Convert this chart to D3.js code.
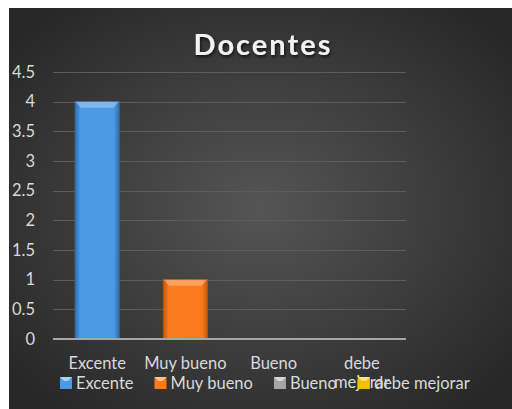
<!DOCTYPE html>
<html>
<head>
<meta charset="utf-8">
<script src="https://cdn.jsdelivr.net/npm/d3@7"></script>
<style>
  html, body { margin: 0; padding: 0; background: #fff; }
  svg { display: block; }
  text { font-family: Lato, "Open Sans", sans-serif; }
</style>
</head>
<body>
<div id="chart"></div>
<script>
(function () {
  'use strict';

  const WIDTH = 512;
  const HEIGHT = 409;
  const FONT_SIZE = '16.5px';

  // data
  const categories = ['Excente', 'Muy bueno', 'Bueno', 'debe mejorar'];
  const values = [4, 1, 0, 0];
  const yTicks = [0, 0.5, 1, 1.5, 2, 2.5, 3, 3.5, 4, 4.5];
  const colors = ['#4a9ae6', '#fb7a1c', '#a5a5a5', '#f5c000'];
  const edgeColors = ['#2e6fb0', '#c3560a', '#7a7a7a', '#b88f00'];
  const title = 'Docentes';

  const margin = { top: 72, right: 106, bottom: 70, left: 53 };
  const width = WIDTH - margin.left - margin.right;
  const height = 339 - margin.top;

  const svg = d3.select('#chart').append('svg')
    .attr('width', WIDTH)
    .attr('height', HEIGHT);

  const defs = svg.append('defs');

  const bg = defs.append('radialGradient')
    .attr('id', 'bg')
    .attr('cx', '50%').attr('cy', '50%').attr('r', '65%');
  bg.append('stop').attr('offset', '0%').attr('stop-color', '#555555');
  bg.append('stop').attr('offset', '100%').attr('stop-color', '#272727');

  const shadow = defs.append('filter').attr('id', 'shadow')
    .attr('x', '-20%').attr('y', '-20%').attr('width', '140%').attr('height', '160%');
  shadow.append('feDropShadow')
    .attr('dx', 1).attr('dy', 2).attr('stdDeviation', 1.5)
    .attr('flood-color', '#000').attr('flood-opacity', 0.7);

  svg.append('rect')
    .attr('x', 9).attr('y', 8)
    .attr('width', WIDTH - 9).attr('height', HEIGHT - 8)
    .attr('fill', 'url(#bg)');

  svg.append('text')
    .attr('x', 263)
    .attr('y', 55)
    .attr('text-anchor', 'middle')
    .attr('fill', '#f2f2f2')
    .style('font-size', '29px')
    .style('font-weight', 'bold')
    .style('letter-spacing', '2px')
    .attr('filter', 'url(#shadow)')
    .text(title);

  const g = svg.append('g')
    .attr('transform', 'translate(' + margin.left + ',' + margin.top + ')');

  const x = d3.scaleBand()
    .domain(categories)
    .range([0, width])
    .paddingInner(0.5)
    .paddingOuter(0.25);

  const y = d3.scaleLinear()
    .domain([0, 4.5])
    .range([height, 0]);

  // grid
  g.append('g')
    .selectAll('line')
    .data(yTicks.filter(function (d) { return d > 0; }))
    .enter().append('line')
    .attr('x1', 0).attr('x2', width)
    .attr('y1', function (d) { return Math.round(y(d)) + 0.5; })
    .attr('y2', function (d) { return Math.round(y(d)) + 0.5; })
    .attr('stroke', '#5c5c5c')
    .attr('stroke-width', 1);

  // y axis
  const yAxis = g.append('g')
    .call(d3.axisLeft(y).tickValues(yTicks).tickSize(0).tickPadding(18).tickFormat(d3.format('')));
  yAxis.select('.domain').remove();
  yAxis.selectAll('text')
    .attr('fill', '#d9d9d9')
    .style('font-size', FONT_SIZE)
    .style('font-family', 'Lato, "Open Sans", sans-serif');

  // bars
  const bars = g.selectAll('.bar')
    .data(categories.map(function (c, i) { return { cat: c, value: values[i], i: i }; }))
    .enter().append('g')
    .attr('class', 'bar');

  bars.each(function (d) {
    if (d.value <= 0) return;
    const sel = d3.select(this);
    const bx = x(d.cat);
    const bw = x.bandwidth();
    const by = y(d.value);
    const bh = height - by;
    const grad = defs.append('linearGradient')
      .attr('id', 'barGrad' + d.i)
      .attr('x1', '0').attr('x2', '1').attr('y1', '0').attr('y2', '0');
    grad.append('stop').attr('offset', '0%').attr('stop-color', edgeColors[d.i]);
    grad.append('stop').attr('offset', '12%').attr('stop-color', colors[d.i]);
    grad.append('stop').attr('offset', '88%').attr('stop-color', colors[d.i]);
    grad.append('stop').attr('offset', '100%').attr('stop-color', edgeColors[d.i]);

    sel.append('rect')
      .attr('x', bx).attr('y', by)
      .attr('width', bw).attr('height', bh)
      .attr('fill', 'url(#barGrad' + d.i + ')')
      .attr('stroke', edgeColors[d.i])
      .attr('stroke-width', 0.8);
    // top bevel
    const bev = 6;
    sel.append('path')
      .attr('d', 'M' + bx + ',' + by + 'L' + (bx + bw) + ',' + by +
        'L' + (bx + bw - bev) + ',' + (by + bev) + 'L' + (bx + bev) + ',' + (by + bev) + 'Z')
      .attr('fill', '#ffffff')
      .attr('opacity', 0.3);
  });

  // baseline
  g.append('line')
    .attr('x1', 0).attr('x2', width)
    .attr('y1', height).attr('y2', height)
    .attr('stroke', '#a6a6a6')
    .attr('stroke-width', 2);

  // x axis labels
  const xAxis = g.append('g')
    .attr('transform', 'translate(0,' + height + ')')
    .call(d3.axisBottom(x).tickSize(0).tickPadding(18));
  xAxis.select('.domain').remove();
  xAxis.selectAll('text')
    .attr('fill', '#d9d9d9')
    .style('font-size', FONT_SIZE)
    .style('font-family', 'Lato, "Open Sans", sans-serif')
    .each(function (d) {
      const t = d3.select(this);
      const words = d.split(' ');
      if (d === 'debe mejorar') {
        t.text(null);
        words.forEach(function (w, k) {
          t.append('tspan').attr('x', 0).attr('dy', k === 0 ? '0.71em' : '1.15em').text(w);
        });
      }
    });

  // legend
  const legend = svg.append('g').attr('transform', 'translate(0,389)');
  const items = legend.selectAll('.item')
    .data(categories)
    .enter().append('g')
    .attr('class', 'item');

  items.append('rect')
    .attr('x', 0).attr('y', -12)
    .attr('width', 12).attr('height', 12)
    .attr('fill', function (d, i) { return colors[i]; });
  items.append('path')
    .attr('d', 'M0,-12L12,-12L8,-8L4,-8Z')
    .attr('fill', '#ffffff')
    .attr('opacity', 0.55);
  items.append('text')
    .attr('x', 16).attr('y', 0)
    .attr('fill', '#d9d9d9')
    .style('font-size', FONT_SIZE)
    .text(function (d) { return d; });

  let cx = 60;
  items.each(function () {
    const it = d3.select(this);
    it.attr('transform', 'translate(' + cx + ',0)');
    cx += 16 + it.select('text').node().getComputedTextLength() + 21;
  });
})();
</script>
</body>
</html>
